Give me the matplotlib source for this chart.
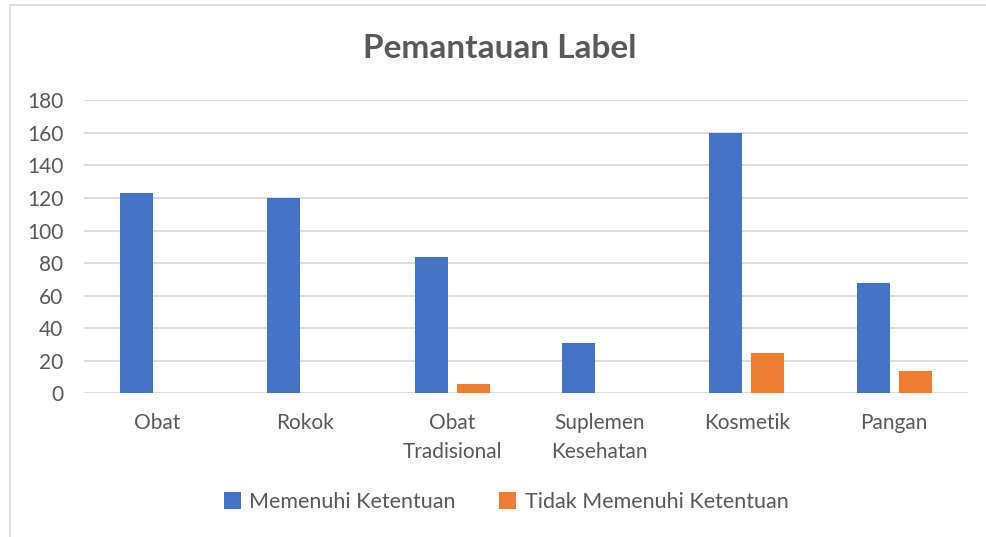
import matplotlib
matplotlib.use("Agg")
import matplotlib.pyplot as plt
import numpy as np
from matplotlib.patches import Rectangle

categories = ["Obat", "Rokok", "Obat\nTradisional", "Suplemen\nKesehatan", "Kosmetik", "Pangan"]
memenuhi = [123, 120, 84, 31, 160, 68]
tidak_memenuhi = [0, 0, 6, 0, 25, 14]
series_names = ["Memenuhi Ketentuan", "Tidak Memenuhi Ketentuan"]
yticks = [0, 20, 40, 60, 80, 100, 120, 140, 160, 180]
title = "Pemantauan Label"

plt.rcParams['font.family'] = ['Lato', 'DejaVu Sans']
text_color = "#595959"

fig = plt.figure(figsize=(9.87, 5.37), dpi=100)
ax = fig.add_axes([0.0851, 0.2676, 0.8956, 0.5456])

x = np.arange(len(categories))
w = 0.224
off = 0.1426
ax.bar(x - off, memenuhi, width=w, color="#4472C4", label=series_names[0], zorder=3)
ax.bar(x + off, tidak_memenuhi, width=w, color="#ED7D31", label=series_names[1], zorder=3)

ax.set_xlim(-0.5, len(categories) - 0.5)
ax.set_ylim(0, 180)
ax.set_yticks(yticks)
ax.set_xticks(x)
ax.set_xticklabels(categories, linespacing=1.55)
ax.tick_params(axis='both', length=0, labelsize=15, colors=text_color)
ax.tick_params(axis='x', pad=14)
ax.tick_params(axis='y', pad=15)
ax.grid(axis='y', color="#d9d9d9", linewidth=1.3, zorder=0)
for s in ax.spines.values():
    s.set_visible(False)

fig.text(0.506, 1 - 49 / 537, title, ha='center', va='center', fontsize=24,
         fontweight='bold', color=text_color)

fig.legend(loc='center', bbox_to_anchor=(506 / 987, 1 - 502 / 537), ncol=2,
           frameon=False, fontsize=15.5, labelcolor=text_color, handlelength=0.8,
           handleheight=0.8, columnspacing=2.0, handletextpad=0.4)

fig.patches.append(Rectangle((10 / 987, -0.1), 1.2, 1 - 5 / 537 + 0.1,
                             transform=fig.transFigure, fill=False,
                             edgecolor="#d9d9d9", linewidth=1.3))

fig.savefig("out.png", dpi=100)
